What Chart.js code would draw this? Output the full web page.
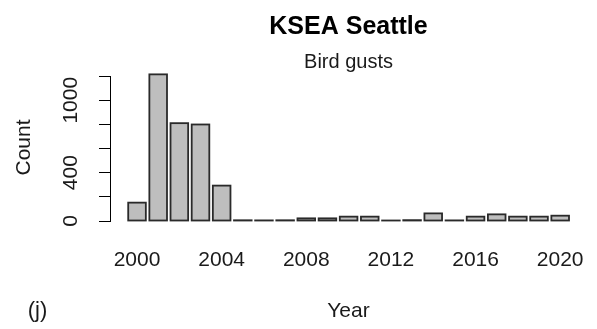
<!DOCTYPE html>
<html>
<head>
<meta charset="utf-8">
<script src="https://cdn.jsdelivr.net/npm/chart.js@4/dist/chart.umd.min.js"></script>
<style>
  html, body { margin: 0; padding: 0; background: #fff; }
  canvas { display: block; }
</style>
</head>
<body>
<canvas id="gusts" width="597" height="329"></canvas>
<script>
// yearly counts of bird gusts at KSEA
const years  = [2000, 2001, 2002, 2003, 2004, 2005, 2006, 2007, 2008, 2009, 2010,
                2011, 2012, 2013, 2014, 2015, 2016, 2017, 2018, 2019, 2020];
const counts = [152, 1214, 810, 799, 293, 6, 5, 6, 22, 22, 36,
                36, 4, 7, 63, 5, 36, 55, 36, 36, 44];

// tick values on the count axis, and which of them get a label
const countTicks  = [0, 200, 400, 600, 800, 1000, 1200];
const countLabels = [0, 400, 1000];
const yearTicks   = [2000, 2004, 2008, 2012, 2016, 2020];

const FONT = "'Liberation Sans', Arial, sans-serif";
const INK = '#1a1a1a';

Chart.defaults.font.family = FONT;
Chart.defaults.color = INK;

// outline each bar with the stroke centred on its edges, so that
// near-zero bars still show up as a dark line
const barOutline = {
    id: 'barOutline',
    afterDatasetsDraw(chart) {
        const {ctx} = chart;
        const meta = chart.getDatasetMeta(0);
        ctx.save();
        ctx.strokeStyle = '#2a2a2a';
        ctx.lineWidth = 1.8;
        meta.data.forEach(bar => {
            const {x, y, base, width} = bar.getProps(['x', 'y', 'base', 'width'], true);
            ctx.strokeRect(x - width / 2, y, width, base - y);
        });
        ctx.restore();
    }
};

// axis line from first to last tick, plus the panel letter
const extras = {
    id: 'extras',
    afterDraw(chart) {
        const {ctx, scales: {y}} = chart;
        const top = y.getPixelForValue(countTicks[countTicks.length - 1]);
        const bottom = y.getPixelForValue(countTicks[0]);
        ctx.save();
        ctx.strokeStyle = '#000';
        ctx.lineWidth = 1;
        ctx.beginPath();
        ctx.moveTo(y.right - 0.5, top);
        ctx.lineTo(y.right - 0.5, bottom);
        ctx.stroke();

        ctx.fillStyle = INK;
        ctx.font = '22px ' + FONT;
        ctx.textAlign = 'center';
        ctx.textBaseline = 'middle';
        ctx.fillText('(j)', 37.5, 311);
        ctx.restore();
    }
};

const data = {
    datasets: [{
        data: years.map((yr, i) => ({x: yr, y: counts[i]})),
        backgroundColor: '#bebebe',
        borderWidth: 0,
        barPercentage: 0.833,
        categoryPercentage: 1.0
    }]
};

new Chart(document.getElementById('gusts'), {
    type: 'bar',
    data,
    plugins: [barOutline, extras],
    options: {
        responsive: false,
        animation: false,
        layout: {padding: {top: 0, right: 11, bottom: 0, left: 0}},
        scales: {
            x: {
                type: 'linear',
                offset: false,
                min: 1998.77,
                max: 2021.22,
                afterFit: (s) => {
                    s.height = 108;
                    s.paddingLeft = 0;
                    s.paddingRight = 0;
                },
                border: {display: false},
                grid: {display: false, drawTicks: false},
                afterBuildTicks: (s) => { s.ticks = yearTicks.map(v => ({value: v})); },
                ticks: {
                    autoSkip: false,
                    maxRotation: 0,
                    padding: 27,
                    font: {size: 21},
                    callback: (v) => String(v)
                },
                title: {
                    display: true,
                    text: 'Year',
                    font: {size: 21},
                    padding: {top: 0, bottom: 5}
                }
            },
            y: {
                min: 0,
                max: 1217,
                afterFit: (s) => {
                    s.width = 111;
                    s.paddingTop = 0;
                    s.paddingBottom = 0;
                },
                border: {display: false},
                grid: {
                    drawOnChartArea: false,
                    drawTicks: true,
                    tickLength: 12,
                    tickColor: '#000',
                    tickWidth: 1
                },
                afterBuildTicks: (s) => { s.ticks = countTicks.map(v => ({value: v})); },
                ticks: {
                    autoSkip: false,
                    minRotation: 90,
                    maxRotation: 90,
                    crossAlign: 'center',
                    padding: 4,
                    font: {size: 21},
                    callback: (v) => countLabels.includes(v) ? String(v) : ''
                },
                title: {
                    display: true,
                    text: 'Count',
                    font: {size: 21},
                    padding: {top: 12, bottom: 0}
                }
            }
        },
        plugins: {
            legend: {display: false},
            tooltip: {enabled: false},
            title: {
                display: true,
                fullSize: false,
                text: 'KSEA Seattle',
                color: '#000',
                font: {size: 25, weight: 'bold'},
                padding: {top: 12, bottom: 0}
            },
            subtitle: {
                display: true,
                fullSize: false,
                text: 'Bird gusts',
                color: INK,
                font: {size: 20},
                padding: {top: 8, bottom: 0}
            }
        }
    }
});
</script>
</body>
</html>
